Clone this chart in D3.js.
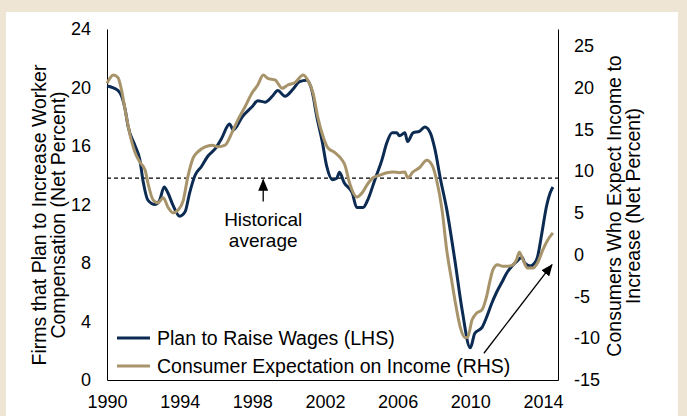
<!DOCTYPE html>
<html>
<head>
<meta charset="utf-8">
<script src="https://cdn.jsdelivr.net/npm/d3@7"></script>
<style>
  body { margin: 0; background: #eee5d5; }
  svg { display: block; font-family: "Liberation Sans", Arial, sans-serif; }
</style>
</head>
<body>
<div id="chart"></div>
<script>
const kWidth = 687;
const kHeight = 416;
const kPlot = { left: 107, right: 558, top: 29, bottom: 380 };
const kNavy = "#0c2b52";
const kGold = "#a8946a";

const yearTicks = [1990, 1994, 1998, 2002, 2006, 2010, 2014];
const leftTicks = [0, 4, 8, 12, 16, 20, 24];
const rightTicks = [-15, -10, -5, 0, 5, 10, 15, 20, 25];

// firms planning to raise wages (left axis)
const wageYears = [1990.0, 1990.6, 1991.0, 1991.15, 1991.55, 1991.8, 1992.0, 1992.25, 1992.65, 1992.9,
  1993.15, 1993.35, 1993.65, 1994.0, 1994.3, 1994.55, 1994.85, 1995.2, 1995.55, 1995.95,
  1996.3, 1996.75, 1996.95, 1997.45, 1998.0, 1998.3, 1998.7, 1999.1, 1999.4, 1999.8,
  2000.25, 2000.6, 2001.0, 2001.3, 2001.55, 2001.85, 2002.1, 2002.4, 2002.65, 2002.8,
  2003.05, 2003.5, 2003.75, 2004.1, 2004.35, 2004.75, 2005.15, 2005.4, 2005.7, 2005.95,
  2006.1, 2006.4, 2006.55, 2006.85, 2007.2, 2007.5, 2007.8, 2008.05, 2008.35, 2008.7,
  2009.15, 2009.55, 2010.0, 2010.25, 2010.65, 2010.9, 2011.2, 2011.45, 2011.75, 2012.0,
  2012.3, 2012.55, 2012.85, 2013.0, 2013.3, 2013.55, 2013.7, 2013.95, 2014.2, 2014.4, 2014.55];
const wageValues = [20.1, 19.8, 18.5, 17.4, 16.0, 15.1, 13.5, 12.3, 12.0, 12.3,
  13.2, 12.8, 11.9, 11.2, 11.5, 12.8, 14.0, 14.6, 15.3, 15.8,
  16.5, 17.5, 17.1, 18.0, 18.7, 19.1, 19.0, 19.4, 19.8, 19.4,
  19.9, 20.4, 20.5, 19.7, 18.0, 16.3, 14.6, 13.7, 13.8, 14.2,
  13.5, 12.8, 11.8, 11.8, 12.3, 13.7, 15.1, 16.2, 16.9, 16.9,
  16.7, 16.9, 16.3, 16.9, 17.0, 17.3, 16.9, 15.8, 13.8, 11.7,
  8.2, 4.8, 2.2, 3.2, 3.6, 4.3, 5.3, 6.0, 6.7, 7.3,
  7.8, 8.1, 8.4, 8.0, 7.8, 8.0, 8.4, 10.1, 11.9, 12.8, 13.2];

// consumers expecting higher income (right axis)
const incomeYears = [1990.0, 1990.35, 1990.6, 1990.8, 1991.0, 1991.25, 1991.55, 1991.8, 1992.1, 1992.25,
  1992.55, 1992.8, 1993.1, 1993.35, 1993.65, 1993.9, 1994.2, 1994.45, 1994.75, 1995.0,
  1995.4, 1995.8, 1996.1, 1996.5, 1996.9, 1997.2, 1997.6, 1998.0, 1998.3, 1998.6,
  1998.85, 1999.25, 1999.65, 1999.95, 2000.35, 2000.8, 2001.05, 2001.35, 2001.6, 2001.9,
  2002.15, 2002.55, 2002.95, 2003.1, 2003.35, 2003.75, 2004.05, 2004.3, 2004.65, 2005.0,
  2005.4, 2005.75, 2006.1, 2006.4, 2006.55, 2006.85, 2007.2, 2007.6, 2007.9, 2008.15,
  2008.45, 2008.7, 2009.0, 2009.15, 2009.45, 2009.7, 2009.85, 2010.1, 2010.35, 2010.65,
  2010.9, 2011.1, 2011.25, 2011.5, 2011.8, 2012.05, 2012.35, 2012.55, 2012.7, 2012.9,
  2013.15, 2013.45, 2013.7, 2014.0, 2014.25, 2014.55];
const incomeValues = [20.5, 21.5, 21.2, 19.7, 17.3, 14.5, 12.2, 11.1, 10.1, 8.6,
  6.5, 6.2, 6.8, 5.7, 5.0, 5.3, 6.5, 9.3, 11.6, 12.3,
  12.9, 13.1, 12.9, 13.1, 14.7, 16.1, 17.7, 19.4, 20.3, 21.5,
  21.1, 20.9, 19.9, 20.3, 20.6, 21.5, 20.9, 19.3, 16.5, 14.1,
  12.8, 12.2, 11.3, 10.7, 8.6, 6.9, 7.4, 8.3, 9.2, 9.5,
  9.8, 9.9, 9.8, 9.9, 9.2, 9.9, 10.4, 11.3, 10.7, 8.9,
  5.3, 0.6, -3.4, -5.4, -8.7, -9.9, -9.9, -7.8, -7.0, -6.6,
  -5.0, -3.0, -1.8, -1.2, -1.4, -1.4, -1.2, -0.6, 0.3, -0.6,
  -1.6, -1.6, -1.0, 0.6, 1.7, 2.6];

const historicalAverage = 13.8;
const legendLabels = ["Plan to Raise Wages (LHS)", "Consumer Expectation on Income (RHS)"];

const svg = d3.select("#chart")
  .append("svg")
  .attr("width", kWidth)
  .attr("height", kHeight);

svg.append("rect")
  .attr("width", kWidth).attr("height", kHeight)
  .attr("fill", "#eee5d5");
svg.append("rect")
  .attr("x", 6).attr("y", 12)
  .attr("width", 672).attr("height", kHeight)
  .attr("fill", "#ffffff");

const x = d3.scaleLinear().domain([1990, 2014.83]).range([kPlot.left, kPlot.right]);
const yLeft = d3.scaleLinear().domain([0, 24]).range([kPlot.bottom, kPlot.top]);
const yRight = d3.scaleLinear().domain([-15, 27]).range([kPlot.bottom, kPlot.top]);

svg.append("defs").append("marker")
  .attr("id", "head")
  .attr("markerUnits", "userSpaceOnUse")
  .attr("viewBox", "0 0 12 10")
  .attr("refX", 11).attr("refY", 5)
  .attr("markerWidth", 12).attr("markerHeight", 10)
  .attr("orient", "auto")
  .append("path")
  .attr("d", "M0,0L12,5L0,10Z")
  .attr("fill", "#000");

function styleAxis(g)
{
  g.attr("font-family", null).attr("font-size", null);
  g.select(".domain").attr("stroke", "#000").attr("stroke-width", 1);
  g.selectAll("text").style("font-size", "18px").attr("fill", "#000");
}

// plain hyphen for negatives, as in the original
const plain = d => String(d);

svg.append("g")
  .attr("transform", `translate(${kPlot.left},0)`)
  .call(d3.axisLeft(yLeft).tickValues(leftTicks).tickFormat(plain).tickSize(0).tickSizeOuter(0).tickPadding(16))
  .call(styleAxis);

svg.append("g")
  .attr("transform", `translate(${kPlot.right},0)`)
  .call(d3.axisRight(yRight).tickValues(rightTicks).tickFormat(plain).tickSize(0).tickSizeOuter(0).tickPadding(16))
  .call(styleAxis);

svg.append("g")
  .attr("transform", `translate(0,${kPlot.bottom})`)
  .call(d3.axisBottom(x).tickValues(yearTicks).tickFormat(plain).tickSize(0).tickSizeOuter(0).tickPadding(15))
  .call(styleAxis);

// axis titles
const leftTitle = svg.append("text")
  .attr("transform", "translate(46,215) rotate(-90)")
  .attr("text-anchor", "middle")
  .style("font-size", "19.5px");
leftTitle.append("tspan").attr("x", 0).attr("dy", 0).text("Firms that Plan to Increase Worker");
leftTitle.append("tspan").attr("x", 0).attr("dy", 19).text("Compensation (Net Percent)");

const rightTitle = svg.append("text")
  .attr("transform", "translate(621,206) rotate(-90)")
  .attr("text-anchor", "middle")
  .style("font-size", "19.5px");
rightTitle.append("tspan").attr("x", 0).attr("dy", 0).text("Consumers Who Expect Income to");
rightTitle.append("tspan").attr("x", 0).attr("dy", 19).text("Increase (Net Percent)");

// historical average
svg.append("line")
  .attr("x1", x(1990)).attr("x2", kPlot.right)
  .attr("y1", yLeft(historicalAverage)).attr("y2", yLeft(historicalAverage))
  .attr("stroke", "#000").attr("stroke-width", 1.2)
  .attr("stroke-dasharray", "4,3");

svg.append("line")
  .attr("x1", x(1998.6)).attr("x2", x(1998.6))
  .attr("y1", yLeft(12.2)).attr("y2", yLeft(13.7))
  .attr("stroke", "#000").attr("stroke-width", 1.3)
  .attr("marker-end", "url(#head)");

const avgText = svg.append("text")
  .attr("x", x(1998.6)).attr("y", yLeft(10.55))
  .attr("text-anchor", "middle")
  .style("font-size", "19px");
avgText.append("tspan").attr("x", x(1998.6)).attr("dy", 0).text("Historical");
avgText.append("tspan").attr("x", x(1998.6)).attr("dy", 21).text("average");

// series
const wageLine = d3.line()
  .x(d => x(d[0]))
  .y(d => yLeft(d[1]))
  .curve(d3.curveMonotoneX);
const incomeLine = d3.line()
  .x(d => x(d[0]))
  .y(d => yRight(d[1]))
  .curve(d3.curveMonotoneX);

svg.append("path")
  .datum(d3.zip(wageYears, wageValues))
  .attr("d", wageLine)
  .attr("fill", "none")
  .attr("stroke", kNavy)
  .attr("stroke-width", 3)
  .attr("stroke-linejoin", "round");

svg.append("path")
  .datum(d3.zip(incomeYears, incomeValues))
  .attr("d", incomeLine)
  .attr("fill", "none")
  .attr("stroke", kGold)
  .attr("stroke-width", 3)
  .attr("stroke-linejoin", "round");

// arrow pointing at the end of the income series
svg.append("line")
  .attr("x1", x(2010.75)).attr("y1", yRight(-11.8))
  .attr("x2", x(2014.5)).attr("y2", yRight(-1.2))
  .attr("stroke", "#000").attr("stroke-width", 1.3)
  .attr("marker-end", "url(#head)");

// legend
const legend = svg.append("g").attr("transform", "translate(117,338)");
[kNavy, kGold].forEach((color, i) => {
  legend.append("line")
    .attr("x1", 0).attr("x2", 33)
    .attr("y1", i * 28).attr("y2", i * 28)
    .attr("stroke", color).attr("stroke-width", 3);
  legend.append("text")
    .attr("x", 40).attr("y", i * 28 + 6.5)
    .style("font-size", "19.5px")
    .text(legendLabels[i]);
});
</script>
</body>
</html>
